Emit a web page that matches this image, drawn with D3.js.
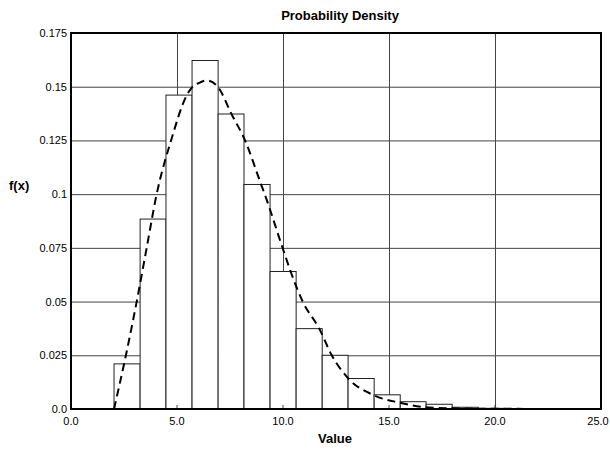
<!DOCTYPE html>
<html>
<head>
<meta charset="utf-8">
<script src="https://cdn.jsdelivr.net/npm/d3@7"></script>
<style>
  body { margin: 0; background: #fff; }
  text { font-family: "Liberation Sans", Arial, sans-serif; fill: #000; }
</style>
</head>
<body>
<svg width="610" height="452"></svg>
<script>
// histogram bin edges and heights
var binEdges = [2.03, 3.26, 4.48, 5.71, 6.94, 8.16, 9.39, 10.62, 11.85, 13.07, 14.30, 15.53, 16.75, 17.98, 19.21, 20.43];
var binHeights = [0.0210, 0.0884, 0.1461, 0.1622, 0.1373, 0.1045, 0.0640, 0.0374, 0.0250, 0.0142, 0.0066, 0.0034, 0.0022, 0.0008, 0.0003];

// fitted density curve (dashed)
var curveX = [2.03, 2.59, 3.10, 3.57, 4.04, 4.72, 5.46, 5.69, 6.05, 6.40, 6.92, 7.58, 8.21, 8.96, 9.15, 9.98, 10.36, 10.93, 11.71, 12.30, 13.08, 14.26, 15.52, 16.70, 17.96, 20.0, 25.0];
var curveY = [0, 0.025, 0.05, 0.075, 0.1, 0.125, 0.146, 0.1495, 0.1518, 0.1529, 0.15, 0.1371, 0.125, 0.1047, 0.0996, 0.075, 0.064, 0.05, 0.0374, 0.025, 0.0142, 0.0065, 0.0029, 0.0008, 0.0003, 0.0001, 0];

var xTicks = [0, 5, 10, 15, 20, 25];
var xTickLabels = ['0.0', '5.0', '10.0', '15.0', '20.0', '25.0'];
var yTicks = [0, 0.025, 0.05, 0.075, 0.1, 0.125, 0.15, 0.175];
var yTickLabels = ['0.0', '0.025', '0.05', '0.075', '0.1', '0.125', '0.15', '0.175'];

var svg = d3.select('svg');

var xScale = d3.scaleLinear()
               .domain([0, 25])
               .range([71, 601]);

var yScale = d3.scaleLinear()
               .domain([0, 0.175])
               .range([409, 33]);

// grid
var yGrid = d3.axisLeft(yScale)
              .tickValues(yTicks)
              .tickSize(-(601 - 71))
              .tickFormat('');
svg.append('g')
   .attr('class', 'grid')
   .attr('transform', 'translate(71,0)')
   .call(yGrid);

var xGrid = d3.axisBottom(xScale)
              .tickValues(xTicks)
              .tickSize(-(409 - 33))
              .tickFormat('');
svg.append('g')
   .attr('class', 'grid')
   .attr('transform', 'translate(0,409)')
   .call(xGrid);

svg.selectAll('.grid .domain').remove();
svg.selectAll('.grid line')
   .style('stroke', '#444')
   .style('stroke-width', 1);

// histogram bars
svg.selectAll('rect.bar')
   .data(binHeights)
   .enter()
   .append('rect')
   .attr('class', 'bar')
   .attr('x', function(d, i) { return xScale(binEdges[i]); })
   .attr('width', function(d, i) { return xScale(binEdges[i + 1]) - xScale(binEdges[i]); })
   .attr('y', function(d) { return yScale(d); })
   .attr('height', function(d) { return yScale(0) - yScale(d); })
   .style('fill', 'white')
   .style('stroke', '#222')
   .style('stroke-width', 1);

// small inward ticks at the bottom, drawn over the bars
svg.selectAll('line.xtick')
   .data(xTicks)
   .enter()
   .append('line')
   .attr('class', 'xtick')
   .attr('x1', function(d) { return xScale(d); })
   .attr('x2', function(d) { return xScale(d); })
   .attr('y1', yScale(0))
   .attr('y2', yScale(0) - 4)
   .style('stroke', '#444');

// density curve
var line = d3.line()
             .x(function(d) { return xScale(d[0]); })
             .y(function(d) { return yScale(d[1]); })
             .curve(d3.curveMonotoneX);

svg.append('path')
   .datum(d3.zip(curveX, curveY))
   .attr('d', line)
   .style('fill', 'none')
   .style('stroke', '#000')
   .style('stroke-width', 2)
   .style('stroke-dasharray', '8,5');

// frame
svg.append('rect')
   .attr('x', 71)
   .attr('y', 33)
   .attr('width', 601 - 71)
   .attr('height', 409 - 33)
   .style('fill', 'none')
   .style('stroke', '#000')
   .style('stroke-width', 2);

// tick labels (last one kept inside the window)
svg.selectAll('text.xlabel')
   .data(xTicks)
   .enter()
   .append('text')
   .attr('class', 'xlabel')
   .attr('x', function(d) { return Math.min(xScale(d), 598); })
   .attr('y', 425)
   .attr('text-anchor', 'middle')
   .style('font-size', '11px')
   .text(function(d, i) { return xTickLabels[i]; });

svg.selectAll('text.ylabel')
   .data(yTicks)
   .enter()
   .append('text')
   .attr('class', 'ylabel')
   .attr('x', 67)
   .attr('y', function(d) { return yScale(d) + 4; })
   .attr('text-anchor', 'end')
   .style('font-size', '11px')
   .text(function(d, i) { return yTickLabels[i]; });

// titles
svg.append('text')
   .attr('x', 340)
   .attr('y', 20)
   .attr('text-anchor', 'middle')
   .style('font-size', '13px')
   .style('font-weight', 'bold')
   .text('Probability Density');

svg.append('text')
   .attr('x', 335)
   .attr('y', 443)
   .attr('text-anchor', 'middle')
   .style('font-size', '13px')
   .style('font-weight', 'bold')
   .text('Value');

svg.append('text')
   .attr('x', 9)
   .attr('y', 190)
   .style('font-size', '13px')
   .style('font-weight', 'bold')
   .text('f(x)');
</script>
</body>
</html>
